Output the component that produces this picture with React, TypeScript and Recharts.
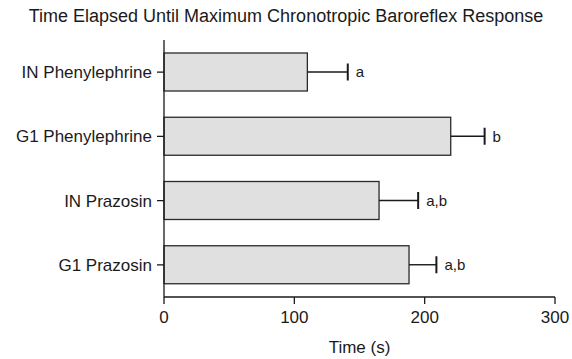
import { BarChart, Bar, XAxis, YAxis, LabelList } from 'recharts'

const GROUPS = ['IN Phenylephrine', 'G1 Phenylephrine', 'IN Prazosin', 'G1 Prazosin']
const TIMES = [110, 220, 165, 188]
const ERRORS = [31, 26, 30, 21]
const LETTERS = ['a', 'b', 'a,b', 'a,b']
const X_TICKS = [0, 100, 200, 300]

const FONT = '"Liberation Sans", Arial, sans-serif'
const INK = '#1a1a1a'

const chartData = GROUPS.map((name, i) => ({
  name,
  time: TIMES[i],
  letter: LETTERS[i],
}))

// bar plus one-sided (upper) error whisker, scaled off the bar's own width
function BarWithError(props: any) {
  const { x, y, width, height, index } = props
  const perUnit = width / TIMES[index]
  const end = x + perUnit * (TIMES[index] + ERRORS[index])
  const mid = y + height / 2
  return (
    <g>
      <rect x={x} y={y} width={width} height={height} fill="#e0e0e0" stroke="#2a2a2a" strokeWidth={1.3} />
      <line x1={x + width} y1={mid} x2={end} y2={mid} stroke={INK} strokeWidth={1.4} />
      <line x1={end} y1={mid - 8.5} x2={end} y2={mid + 8.5} stroke={INK} strokeWidth={2} />
    </g>
  )
}

function LetterLabel(props: any) {
  const { x, y, width, height, index } = props
  const perUnit = width / TIMES[index]
  const end = x + perUnit * (TIMES[index] + ERRORS[index])
  return (
    <text x={end + 8} y={y + height / 2} dy="0.35em" fontSize={15} fill={INK} fontFamily={FONT}>
      {LETTERS[index]}
    </text>
  )
}

export default function App() {
  return (
    <div style={{ position: 'absolute', left: 0, top: 0, width: 572, height: 359, background: '#fff', fontFamily: FONT }}>
      <div style={{ position: 'absolute', top: 6, left: 0, width: 572, textAlign: 'center', fontSize: 18, color: INK }}>
        Time Elapsed Until Maximum Chronotropic Baroreflex Response
      </div>
      <BarChart
        width={572}
        height={359}
        data={chartData}
        layout="vertical"
        margin={{ top: 40, right: 17, bottom: 0, left: 0 }}
        barCategoryGap={13}
      >
        <XAxis
          type="number"
          domain={[0, 300]}
          ticks={X_TICKS}
          tick={{ fontSize: 17, fill: INK, fontFamily: FONT }}
          tickSize={7}
          tickMargin={7}
          height={62}
          stroke={INK}
          strokeWidth={1.3}
          label={{ value: 'Time (s)', position: 'insideBottom', offset: 6, fontSize: 17, fill: INK, fontFamily: FONT }}
        />
        <YAxis
          type="category"
          dataKey="name"
          width={164}
          tick={{ fontSize: 17, fill: INK, fontFamily: FONT }}
          tickSize={7}
          tickMargin={5}
          stroke={INK}
          strokeWidth={1.3}
        />
        <Bar dataKey="time" shape={BarWithError} isAnimationActive={false}>
          <LabelList dataKey="letter" content={LetterLabel} />
        </Bar>
      </BarChart>
    </div>
  )
}
